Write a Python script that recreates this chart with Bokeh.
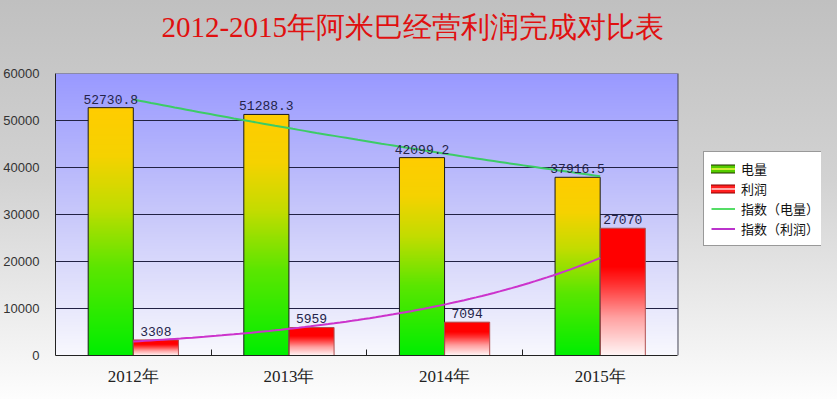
import numpy as np
from bokeh.plotting import figure
from bokeh.models import (ColumnDataSource, Range1d, FixedTicker, NumeralTickFormatter,
                          LabelSet, Label, Legend, LegendItem)
from bokeh.core.properties import value
from bokeh.embed import file_html
from bokeh.resources import INLINE

# ---------------- data ----------------
categories = ["2012年", "2013年", "2014年", "2015年"]
electricity = [52730.8, 51288.3, 42099.2, 37916.5]
profit = [3308, 5959, 7094, 27070]
y_ticks = [0, 10000, 20000, 30000, 40000, 50000, 60000]
title_text = "2012-2015年阿米巴经营利润完成对比表"
legend_labels = ["电量", "利润", "指数（电量）", "指数（利润）"]

# ---------------- helpers ----------------
n_cat = len(categories)
idx = np.arange(1, n_cat + 1, dtype=float)
bar_w = 0.29


def gradient(stops, n=256):
    """vertical gradient image, row 0 = bottom"""
    pos = np.array([s[0] for s in stops])
    cols = np.array([s[1] for s in stops], dtype=float)
    t = np.linspace(0, 1, n)
    img = np.empty((n, 2), dtype=np.uint32)
    view = img.view(dtype=np.uint8).reshape((n, 2, 4))
    for c in range(3):
        ch = np.interp(t, pos, cols[:, c]).round().astype(np.uint8)
        view[:, :, c] = ch[:, None]
    view[:, :, 3] = 255
    return img


green_grad = gradient([(0.0, (0, 238, 0)), (0.35, (90, 230, 0)), (0.6, (195, 220, 0)),
                       (0.8, (245, 210, 0)), (1.0, (255, 204, 0))])
red_grad = gradient([(0.0, (255, 246, 246)), (0.3, (255, 160, 160)), (0.58, (255, 40, 40)),
                     (0.7, (255, 0, 0)), (1.0, (255, 0, 0))])
bg_grad = gradient([(0.0, (248, 248, 253)), (0.5, (200, 200, 250)), (1.0, (153, 153, 255))])

y_max = y_ticks[-1]

# layout (pixels): plot area 629 x 282, 65 px below the top of the canvas;
# the frame is extended right (legend) and up (title) so nothing gets clipped
W, H = 821, 383
b_left, b_right, b_top, b_bottom = 47, 0, 0, 36
plot_w, plot_h, plot_top = 629, 282, 65
frame_w = W - b_left - b_right
frame_h = H - b_top - b_bottom
x0 = 0.5
x_plot_end = x0 + n_cat
px_x = plot_w / n_cat          # pixels per category
px_y = plot_h / y_max          # pixels per unit value
x_end = x0 + frame_w / px_x
y_end = y_max + plot_top / px_y

p = figure(width=W, height=H, output_backend="svg", toolbar_location=None,
           x_range=Range1d(x0, x_end), y_range=Range1d(0, y_end),
           min_border_left=b_left, min_border_right=b_right,
           min_border_top=b_top, min_border_bottom=b_bottom)
p.border_fill_color = None
p.background_fill_color = None
p.outline_line_color = None

# plot area gradient
p.image_rgba(image=[bg_grad], x=x0, y=0, dw=n_cat, dh=y_max, level="image")

# grid lines and border of the plot area
gy = y_ticks[1:-1]
p.segment(x0=[x0] * len(gy), x1=[x_plot_end] * len(gy), y0=gy, y1=gy,
          line_color="#222244", line_width=1)
p.segment(x0=[x_plot_end], x1=[x_plot_end], y0=[0], y1=[y_max],
          line_color="#444455", line_width=1)
p.segment(x0=[x0], x1=[x_plot_end], y0=[y_max], y1=[y_max],
          line_color="#8a8aa8", line_width=1)

# bars
src_e = ColumnDataSource(dict(img=[green_grad] * n_cat, x=idx - bar_w, xc=idx - bar_w / 2,
                              y=[0] * n_cat, dw=[bar_w] * n_cat, v=electricity,
                              lab=[f"{v:.1f}" for v in electricity]))
src_r = ColumnDataSource(dict(img=[red_grad] * n_cat, x=idx, xc=idx + bar_w / 2,
                              y=[0] * n_cat, dw=[bar_w] * n_cat, v=profit,
                              lab=[f"{v:g}" for v in profit]))

p.image_rgba(image="img", x="x", y="y", dw="dw", dh="v", source=src_e)
p.image_rgba(image="img", x="x", y="y", dw="dw", dh="v", source=src_r)
p.vbar(x="xc", top="v", width=bar_w, source=src_e, fill_color=None,
       line_color="#1a1a1a", line_width=1)
p.vbar(x="xc", top="v", width=bar_w, source=src_r, fill_color=None,
       line_color="#b05050", line_width=1)

# exponential trend lines (fitted from the data, like the spreadsheet trendline)
xs = np.linspace(1, n_cat, 80)
ce = np.polyfit(idx, np.log(electricity), 1)
cr = np.polyfit(idx, np.log(profit), 1)
p.line(xs, np.exp(np.polyval(ce, xs)), line_color="#3ccc66", line_width=2)
p.line(xs, np.exp(np.polyval(cr, xs)), line_color="#cc33cc", line_width=2)

# data labels
for src in (src_e, src_r):
    p.add_layout(LabelSet(x="xc", y="v", text="lab", source=src, y_offset=4,
                          text_align="center", text_baseline="bottom",
                          text_font=value("Liberation Mono"), text_font_size="13px",
                          text_color="#24244a"))

# axes
p.xaxis.ticker = FixedTicker(ticks=list(idx), minor_ticks=list(idx[:-1] + 0.5))
p.xaxis.major_label_overrides = {int(i): c for i, c in zip(idx, categories)}
p.xaxis.bounds = (x0, x_plot_end)
p.xaxis.major_tick_line_color = None
p.xaxis.minor_tick_in = 6
p.xaxis.minor_tick_out = 0
p.xaxis.minor_tick_line_color = "#222222"
p.xaxis.axis_line_color = "#222222"
p.xaxis.major_label_text_font = "Liberation Serif"
p.xaxis.major_label_text_font_size = "17px"
p.xaxis.major_label_text_color = "#222222"
p.xaxis.major_label_standoff = 5

p.yaxis.ticker = FixedTicker(ticks=y_ticks)
p.yaxis.formatter = NumeralTickFormatter(format="0")
p.yaxis.bounds = (0, y_max)
p.yaxis.major_tick_line_color = None
p.yaxis.minor_tick_line_color = None
p.yaxis.axis_line_color = "#222222"
p.yaxis.major_label_text_font = "Liberation Sans"
p.yaxis.major_label_text_font_size = "13px"
p.yaxis.major_label_text_color = "#333333"
p.yaxis.major_label_standoff = 10

p.xgrid.grid_line_color = None
p.ygrid.grid_line_color = None

# title (inside the extended frame, above the plot area)
p.add_layout(Label(x=x0 + (408 - b_left) / px_x, y=y_max + 47 / px_y, text=title_text,
                   text_align="center", text_baseline="middle",
                   text_font="Liberation Serif", text_font_size="29px",
                   text_color="#e01010"))

# legend proxies
nan = [float("nan")]
g_out = p.line(nan, nan, line_color="#223300", line_width=9, line_cap="round")
g_in = p.line(nan, nan, line_color="#55cc00", line_width=7, line_cap="round")
g_hi = p.line(nan, nan, line_color="#ccee33", line_width=2)
r_out = p.line(nan, nan, line_color="#880000", line_width=9, line_cap="round")
r_in = p.line(nan, nan, line_color="#ff2020", line_width=7, line_cap="round")
r_hi = p.line(nan, nan, line_color="#ffaaaa", line_width=2)
le = p.line(nan, nan, line_color="#55dd66", line_width=2)
lr = p.line(nan, nan, line_color="#bb33cc", line_width=2)

legend = Legend(items=[LegendItem(label=legend_labels[0], renderers=[g_out, g_in, g_hi]),
                       LegendItem(label=legend_labels[1], renderers=[r_out, r_in, r_hi]),
                       LegendItem(label=legend_labels[2], renderers=[le]),
                       LegendItem(label=legend_labels[3], renderers=[lr])],
                location=(648, 109), orientation="vertical",
                background_fill_color="white", background_fill_alpha=1,
                border_line_color="#333333", border_line_width=1,
                label_text_font="Noto Sans CJK SC", label_text_font_size="13px",
                label_text_color="#111111",
                glyph_width=24, glyph_height=17, label_height=17, spacing=1,
                padding=7, margin=0, label_standoff=6)
p.add_layout(legend)

html = file_html(p, INLINE)
style = ('<style>html{min-height:100%;margin:0;padding:0;background:linear-gradient('
         'to bottom,#c0c0c0 0%,#d2d2d2 45%,#fdfdfd 100%) fixed;}'
         'body{margin:8px 0 8px 0;padding:0;height:auto;background:transparent;}</style>')
pos = html.rfind("</body>")
html = html[:pos] + style + html[pos:]
open("out.html", "w").write(html)
